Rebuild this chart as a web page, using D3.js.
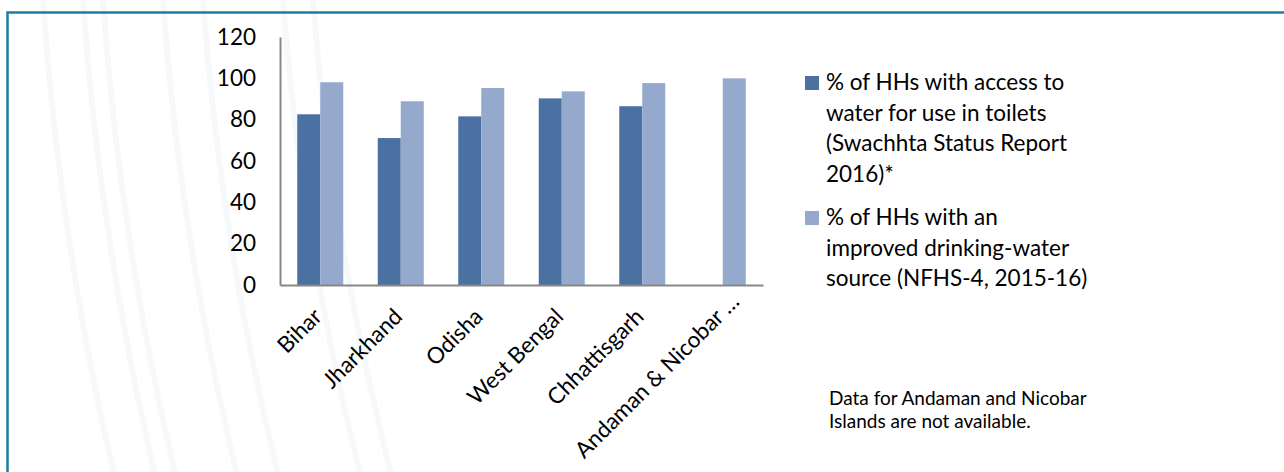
<!DOCTYPE html>
<html>
<head>
<meta charset="utf-8">
<script src="https://cdn.jsdelivr.net/npm/d3@7"></script>
<style>
  body { margin: 0; background: #fff; }
  svg { display: block; }
  .tick text { font-family: Lato, "Open Sans", sans-serif; font-size: 22.5px; fill: #000; }
  .legend { font-family: Lato, "Open Sans", sans-serif; font-size: 22.5px; fill: #000; }
  .note { font-family: Lato, "Open Sans", sans-serif; font-size: 19px; fill: #000; }
</style>
</head>
<body>
<script>
// Chart values
var categories = ["Bihar", "Jharkhand", "Odisha", "West Bengal", "Chhattisgarh", "Andaman & Nicobar \u2026"];
var toiletWater = [82.6, 71.1, 81.6, 90.3, 86.5, null];
var drinkingWater = [98.1, 88.9, 95.3, 93.7, 97.7, 100];
var seriesKeys = ["toilet", "drinking"];
var seriesLabels = [
  ["% of HHs with access to", "water for use in toilets", "(Swachhta Status Report", "2016)*"],
  ["% of HHs with an", "improved drinking-water", "source (NFHS-4, 2015-16)"]
];
var seriesColors = ["#4a71a2", "#95a9cc"];
var yTicks = [0, 20, 40, 60, 80, 100, 120];
var noteLines = ["Data for Andaman and Nicobar", "Islands are not available."];

// Set the dimensions of the canvas / graph
var W = 1284, H = 472;
var margin = {top: 37, left: 280},
    width = 483,
    height = 248;

var svg = d3.select("body")
    .append("svg")
        .attr("width", W)
        .attr("height", H);

// faint background arcs
var arcs = svg.append("g");
[0, 40, 60, 120, 160, 240, 270].forEach(function(off) {
    var cx = 3000, cy = -200;
    var r = Math.sqrt(Math.pow(cx - (43 + off), 2) + cy * cy);
    arcs.append("circle")
        .attr("cx", cx).attr("cy", cy).attr("r", r)
        .attr("fill", "none")
        .attr("stroke", "#f5f9fb")
        .attr("stroke-width", 6);
});

// frame
svg.append("path")
    .attr("d", "M7.5," + H + "V12.5H" + W)
    .attr("fill", "none")
    .attr("stroke", "#1a7ea1")
    .attr("stroke-width", 2.5);

var g = svg.append("g")
    .attr("transform", "translate(" + margin.left + "," + margin.top + ")");

// Set the ranges
var x0 = d3.scaleBand().domain(categories).range([0, width]).padding(0);
var x1 = d3.scaleBand().domain(seriesKeys).range([0, x0.bandwidth()])
    .paddingInner(0).paddingOuter(0.75);
var y = d3.scaleLinear().domain([0, 120]).range([height, 0]);

var rows = categories.map(function(c, i) {
    return {cat: c, values: [
        {key: "toilet", v: toiletWater[i]},
        {key: "drinking", v: drinkingWater[i]}
    ]};
});

// bars
var groups = g.selectAll(".grp")
    .data(rows)
    .enter().append("g")
    .attr("transform", function(d) { return "translate(" + x0(d.cat) + ",0)"; });

groups.selectAll("rect")
    .data(function(d) { return d.values.filter(function(v) { return v.v != null; }); })
    .enter().append("rect")
    .attr("x", function(d) { return x1(d.key); })
    .attr("width", x1.bandwidth())
    .attr("y", function(d) { return y(d.v); })
    .attr("height", function(d) { return height - y(d.v); })
    .attr("fill", function(d) { return seriesColors[seriesKeys.indexOf(d.key)]; });

// Y axis
var yAxis = g.append("g")
    .call(d3.axisLeft(y).tickValues(yTicks).tickSize(0).tickPadding(24));
yAxis.select(".domain").attr("stroke", "#878787").attr("stroke-width", 2);

// X axis
var xAxis = g.append("g")
    .attr("transform", "translate(0," + height + ")")
    .call(d3.axisBottom(x0).tickSize(0).tickPadding(0));
xAxis.select(".domain").attr("stroke", "#878787").attr("stroke-width", 2);
xAxis.selectAll(".tick text")
    .attr("text-anchor", "end")
    .attr("dy", 0)
    .attr("y", 0)
    .attr("transform", function(d, i) {
        // the truncated last label sits further up the diagonal
        var s = (i === categories.length - 1) ? 15 : 0;
        return "translate(" + (3 + s) + "," + (33 - s) + ") rotate(-45)";
    });

// Legend
var ly = [90, 225];
seriesLabels.forEach(function(lines, i) {
    svg.append("rect")
        .attr("x", 805).attr("y", ly[i] - 14)
        .attr("width", 14).attr("height", 14)
        .attr("fill", seriesColors[i]);
    lines.forEach(function(t, j) {
        svg.append("text")
            .attr("class", "legend")
            .attr("x", 826)
            .attr("y", ly[i] + j * 30.5)
            .text(t);
    });
});

// Note
noteLines.forEach(function(t, j) {
    svg.append("text")
        .attr("class", "note")
        .attr("x", 829)
        .attr("y", 405 + j * 23)
        .text(t);
});
</script>
</body>
</html>
